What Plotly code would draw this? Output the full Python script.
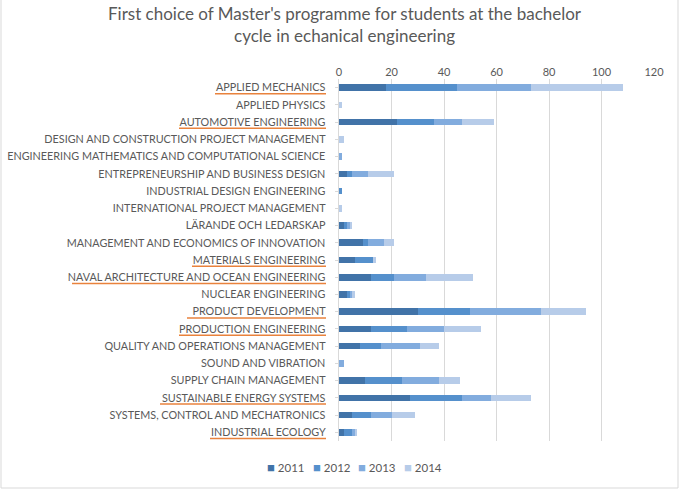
import plotly.graph_objects as go

programmes = [
    "APPLIED MECHANICS",
    "APPLIED PHYSICS",
    "AUTOMOTIVE ENGINEERING",
    "DESIGN AND CONSTRUCTION PROJECT MANAGEMENT",
    "ENGINEERING MATHEMATICS AND COMPUTATIONAL SCIENCE",
    "ENTREPRENEURSHIP AND BUSINESS DESIGN",
    "INDUSTRIAL DESIGN ENGINEERING",
    "INTERNATIONAL PROJECT MANAGEMENT",
    "LÄRANDE OCH LEDARSKAP",
    "MANAGEMENT AND ECONOMICS OF INNOVATION",
    "MATERIALS ENGINEERING",
    "NAVAL ARCHITECTURE AND OCEAN ENGINEERING",
    "NUCLEAR ENGINEERING",
    "PRODUCT DEVELOPMENT",
    "PRODUCTION ENGINEERING",
    "QUALITY AND OPERATIONS MANAGEMENT",
    "SOUND AND VIBRATION",
    "SUPPLY CHAIN MANAGEMENT",
    "SUSTAINABLE ENERGY SYSTEMS",
    "SYSTEMS, CONTROL AND MECHATRONICS",
    "INDUSTRIAL ECOLOGY",
]

years = ["2011", "2012", "2013", "2014"]
v2011 = [18, 0, 22, 0, 0, 3, 0, 0, 2, 9, 6, 12, 3, 30, 12, 8, 0, 10, 27, 5, 2]
v2012 = [27, 0, 14, 0, 0, 2, 1, 0, 1, 2, 7, 9, 1, 20, 14, 8, 0, 14, 20, 7, 3]
v2013 = [28, 0, 11, 0, 1, 6, 0, 0, 1, 6, 0, 12, 1, 27, 14, 15, 2, 14, 11, 8, 1]
v2014 = [35, 1, 12, 2, 0, 10, 0, 1, 1, 4, 1, 18, 1, 17, 14, 7, 0, 8, 15, 9, 1]

x_ticks = [0, 20, 40, 60, 80, 100, 120]

title_text = "First choice of Master's programme for students at the bachelor<br>cycle in echanical engineering"

# programmes underlined in the reference (label start pixel)
underlined = {
    "APPLIED MECHANICS": 215,
    "AUTOMOTIVE ENGINEERING": 179,
    "MATERIALS ENGINEERING": 192,
    "NAVAL ARCHITECTURE AND OCEAN ENGINEERING": 72,
    "PRODUCT DEVELOPMENT": 187,
    "PRODUCTION ENGINEERING": 179,
    "SUSTAINABLE ENERGY SYSTEMS": 160,
    "INDUSTRIAL ECOLOGY": 210,
}

colors = ["#4173A8", "#5590CC", "#82ACDE", "#B7CCE9"]
series = [v2011, v2012, v2013, v2014]

W, H = 684, 493
L, R, T, B = 339, 30, 79, 52
PW, PH = W - L - R, H - T - B

def px(xp):
    return (xp - L) / PW

def py(yp):
    return (H - B - yp) / PH

fig = go.Figure()
for yr, vals, c in zip(years, series, colors):
    fig.add_trace(go.Bar(
        y=programmes, x=vals, name=yr, orientation="h",
        marker=dict(color=c, line=dict(width=0)),
        showlegend=False,
    ))

shapes = []
for name, start in underlined.items():
    i = programmes.index(name)
    shapes.append(dict(
        type="line", xref="paper", yref="y",
        x0=px(start), x1=px(326), y0=i + 0.36, y1=i + 0.36,
        line=dict(color="#E9823C", width=1.5),
    ))
shapes.append(dict(
    type="rect", xref="paper", yref="paper",
    x0=px(1), x1=px(678), y0=py(488), y1=py(-5),
    line=dict(color="#D9D9D9", width=1), fillcolor="rgba(0,0,0,0)", layer="below",
))

fig.add_annotation(
    text=title_text, xref="paper", yref="paper",
    x=px(345), y=py(24), xanchor="center", yanchor="middle",
    showarrow=False, font=dict(size=17, color="#595959"), align="center",
)

# legend drawn as text entries (coloured square + year)
for k, (yr, c) in enumerate(zip(years, colors)):
    fig.add_annotation(
        text=f"<span style='color:{c};font-size:13px'>■</span> {yr}",
        xref="paper", yref="paper",
        x=px(265 + 45.5 * k), y=py(467), xanchor="left", yanchor="middle",
        showarrow=False, font=dict(size=11.5, color="#595959"),
    )

fig.update_layout(
    width=W, height=H,
    margin=dict(l=L, r=R, t=T, b=B, autoexpand=False),
    barmode="stack", bargap=0.62,
    paper_bgcolor="white", plot_bgcolor="white",
    font=dict(family="Lato, Carlito, sans-serif", color="#595959"),
    showlegend=False,
    xaxis=dict(
        side="top", range=[0, 120], tickvals=x_ticks,
        showgrid=True, gridcolor="#D9D9D9", gridwidth=1,
        zeroline=False, showline=False, ticks="", automargin=False,
        tickfont=dict(size=11, color="#595959"),
    ),
    yaxis=dict(
        autorange="reversed", type="category", automargin=False,
        showline=True, linecolor="#D9D9D9", linewidth=1,
        ticks="outside", ticklen=3, tickcolor="#D9D9D9",
        tickfont=dict(size=10.8, color="#595959"),
        ticksuffix="  ", ticklabelstandoff=2,
    ),
    shapes=shapes,
)

fig.write_html("out.html")
